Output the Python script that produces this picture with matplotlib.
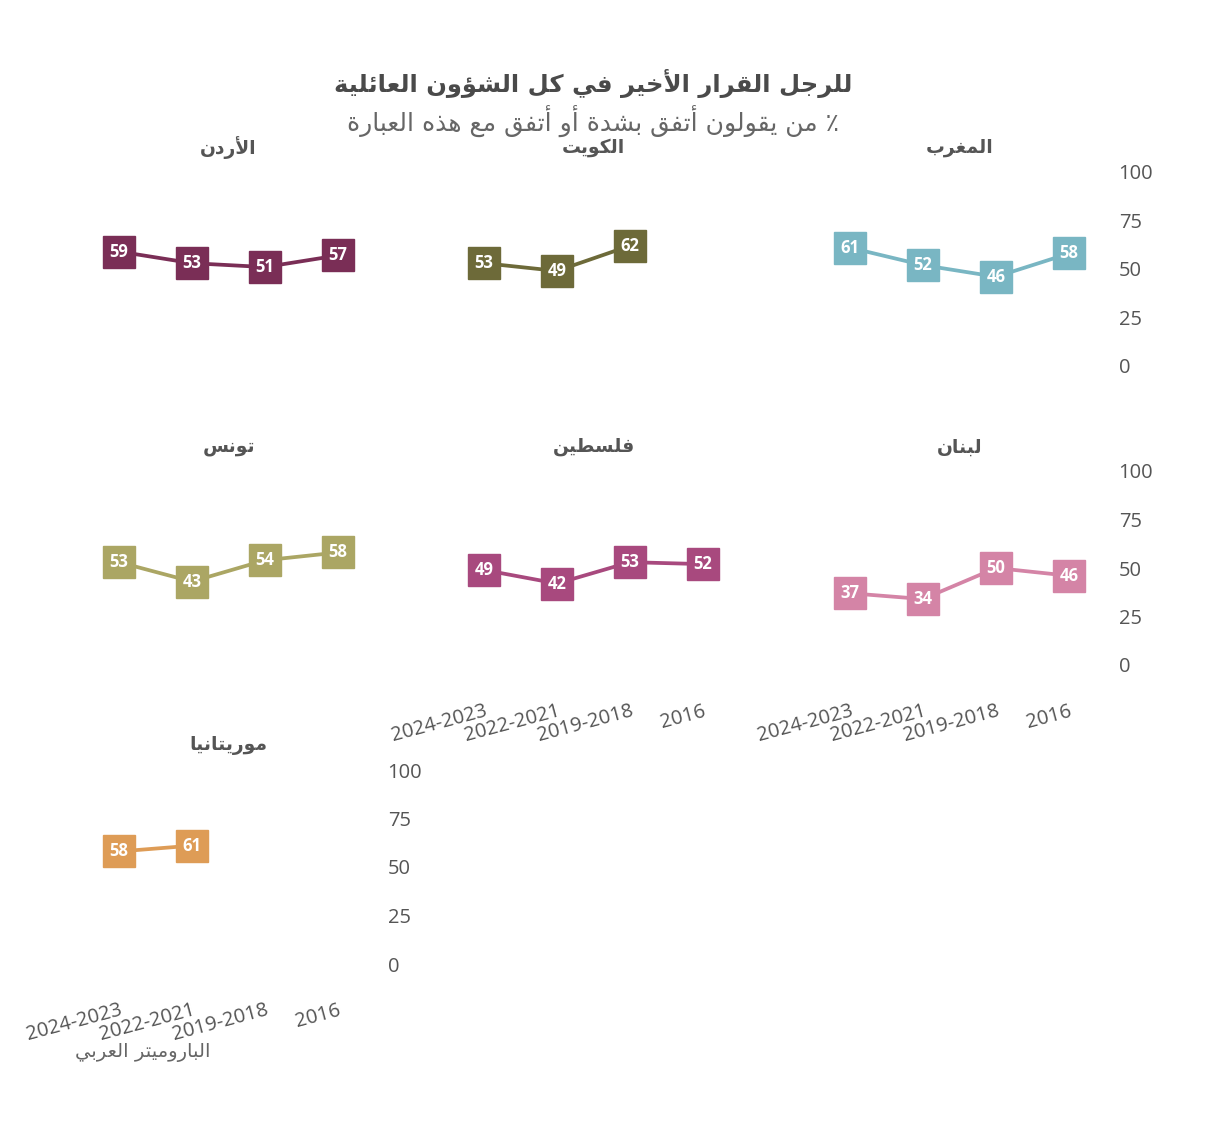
import matplotlib
matplotlib.use('Agg')
import matplotlib.pyplot as plt

# --- data ---
years = ['2024-2023', '2022-2021', '2019-2018', '2016']
morocco = [61, 52, 46, 58]
kuwait = [53, 49, 62, None]
jordan = [59, 53, 51, 57]
lebanon = [37, 34, 50, 46]
palestine = [49, 42, 53, 52]
tunisia = [53, 43, 54, 58]
mauritania = [58, 61, None, None]
yticks = [0, 25, 50, 75, 100]

title = 'للرجل القرار الأخير في كل الشؤون العائلية'
subtitle = '٪ من يقولون أتفق بشدة أو أتفق مع هذه العبارة'
source = 'الباروميتر العربي'


# matplotlib has no arabic shaping, so pick presentation forms by hand
_letters = [
    ('\u0621', 0xFE80, 1), ('\u0622', 0xFE81, 2), ('\u0623', 0xFE83, 2),
    ('\u0624', 0xFE85, 2), ('\u0625', 0xFE87, 2), ('\u0626', 0xFE89, 4),
    ('\u0627', 0xFE8D, 2), ('\u0628', 0xFE8F, 4), ('\u0629', 0xFE93, 2),
    ('\u062A', 0xFE95, 4), ('\u062B', 0xFE99, 4), ('\u062C', 0xFE9D, 4),
    ('\u062D', 0xFEA1, 4), ('\u062E', 0xFEA5, 4), ('\u062F', 0xFEA9, 2),
    ('\u0630', 0xFEAB, 2), ('\u0631', 0xFEAD, 2), ('\u0632', 0xFEAF, 2),
    ('\u0633', 0xFEB1, 4), ('\u0634', 0xFEB5, 4), ('\u0635', 0xFEB9, 4),
    ('\u0636', 0xFEBD, 4), ('\u0637', 0xFEC1, 4), ('\u0638', 0xFEC5, 4),
    ('\u0639', 0xFEC9, 4), ('\u063A', 0xFECD, 4), ('\u0641', 0xFED1, 4),
    ('\u0642', 0xFED5, 4), ('\u0643', 0xFED9, 4), ('\u0644', 0xFEDD, 4),
    ('\u0645', 0xFEE1, 4), ('\u0646', 0xFEE5, 4), ('\u0647', 0xFEE9, 4),
    ('\u0648', 0xFEED, 2), ('\u0649', 0xFEEF, 2), ('\u064A', 0xFEF1, 4),
]
FORMS = {c: (b, n) for c, b, n in _letters}
LAM_ALEF = {'\u0622': 0xFEF5, '\u0623': 0xFEF7, '\u0625': 0xFEF9, '\u0627': 0xFEFB}


def ar(text):
    toks = []
    i = 0
    while i < len(text):
        c = text[i]
        if c == '\u0644' and i + 1 < len(text) and text[i + 1] in LAM_ALEF:
            toks.append((LAM_ALEF[text[i + 1]], 2))
            i += 2
            continue
        toks.append(FORMS.get(c, c))
        i += 1
    out = []
    for k, t in enumerate(toks):
        if isinstance(t, str):
            out.append(t)
            continue
        base, n = t
        prev = toks[k - 1] if k > 0 else None
        nxt = toks[k + 1] if k + 1 < len(toks) else None
        jp = n >= 2 and isinstance(prev, tuple) and prev[1] == 4
        jn = n == 4 and isinstance(nxt, tuple) and nxt[1] >= 2
        if jp and jn:
            f = 3
        elif jp:
            f = 1
        elif jn:
            f = 2
        else:
            f = 0
        out.append(chr(base + f))
    return ''.join(out)[::-1]


plt.rcParams['font.family'] = ['Open Sans', 'DejaVu Sans']

W, H = 1230, 1135
fig = plt.figure(figsize=(W / 100, H / 100), dpi=100)

col_left = [86, 451, 817]
row_top = [172, 471, 770]
aw, ah = 285, 194

panels = [
    ('المغرب', morocco, '#79b6c3', 0, 2),
    ('الكويت', kuwait, '#6d6a39', 0, 1),
    ('الأردن', jordan, '#7a2e56', 0, 0),
    ('لبنان', lebanon, '#d484a6', 1, 2),
    ('فلسطين', palestine, '#a8497e', 1, 1),
    ('تونس', tunisia, '#aba664', 1, 0),
    ('موريتانيا', mauritania, '#de9c56', 2, 0),
]
# y labels on the last panel of each row, x labels under the lowest panel of each column
ylab = {(0, 2), (1, 2), (2, 0)}
xlab = {(1, 1), (1, 2), (2, 0)}

for name, vals, color, r, c in panels:
    l, t = col_left[c], row_top[r]
    ax = fig.add_axes([l / W, 1 - (t + ah) / H, aw / W, ah / H])
    ax.set_xlim(-0.45, 3.45)
    ax.set_ylim(0, 100)
    for s in ax.spines.values():
        s.set_visible(False)
    xs = [i for i, v in enumerate(vals) if v is not None]
    ys = [v for v in vals if v is not None]
    ax.plot(xs, ys, color=color, lw=2.7, marker='s', ms=22.5, mec=color,
            clip_on=False, zorder=3)
    for x, y in zip(xs, ys):
        ax.text(x, y, str(y), ha='center', va='center', color='white',
                fontsize=12, fontweight='bold', zorder=4)
    ax.text(1.5, 112.5, ar(name), ha='center', va='center', fontsize=13.5,
            fontweight='bold', color='#555555', family='DejaVu Sans')

    ax.yaxis.tick_right()
    ax.set_yticks(yticks)
    ax.set_xticks(range(len(years)))
    ax.tick_params(length=0, colors='#555555', labelsize=14.5)
    ax.tick_params(axis='y', pad=12)
    ax.tick_params(axis='x', pad=26)
    if (r, c) in ylab:
        ax.set_yticklabels([str(v) for v in yticks])
    else:
        ax.set_yticklabels([])
    if (r, c) in xlab:
        ax.set_xticklabels(years, rotation=15, ha='right', va='top',
                           rotation_mode='anchor')
    else:
        ax.set_xticklabels([])

fig.text(593 / W, 1 - 83 / H, ar(title), ha='center', va='center', fontsize=17.5,
         fontweight='bold', color='#4a4a4a', family='DejaVu Sans')
fig.text(593 / W, 1 - 121 / H, ar(subtitle), ha='center', va='center', fontsize=18,
         color='#666666', family='DejaVu Sans')
fig.text(143 / W, 1 - 1052 / H, ar(source), ha='center', va='center', fontsize=14,
         color='#666666', family='DejaVu Sans')

plt.savefig('out.png', dpi=100, facecolor='white')
